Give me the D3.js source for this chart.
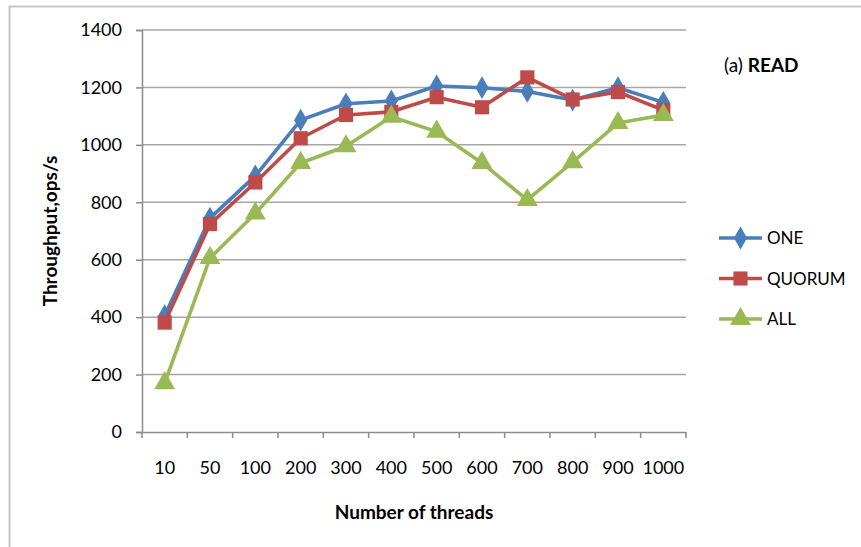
<!DOCTYPE html>
<html lang="en">
<head>
<meta charset="utf-8">
<title>READ throughput</title>
<script src="https://cdn.jsdelivr.net/npm/d3@7"></script>
<style>
  body { margin: 0; background: #fff; }
  text { font-family: Lato, "Open Sans", sans-serif; fill: #000; }
</style>
</head>
<body>
<script>
// chart data
var threads = ["10", "50", "100", "200", "300", "400", "500", "600", "700", "800", "900", "1000"];
var one    = [405, 745, 892, 1086, 1143, 1153, 1205, 1199, 1186, 1156, 1199, 1148];
var quorum = [381, 724, 869, 1023, 1104, 1115, 1166, 1131, 1235, 1158, 1184, 1121];
var all    = [170, 606, 761, 937, 995, 1098, 1046, 937, 808, 940, 1076, 1104];
var yTicks = [0, 200, 400, 600, 800, 1000, 1200, 1400];

var seriesNames = ["ONE", "QUORUM", "ALL"];
var seriesVals = [one, quorum, all];
var colors = ["#4a7ebb", "#be4b48", "#98b954"];
var shapes = [d3.symbolDiamond, d3.symbolSquare, d3.symbolTriangle];
var sizes = [150, 200, 190];

var width = 861, height = 547;
// plot area edges (note: "top" is reserved on window, so prefix them)
var pLeft = 142, pRight = 686, pTop = 30, pBottom = 432;

var svg = d3.select("body").append("svg")
  .attr("width", width)
  .attr("height", height);

// outer frame (only left and top visible in the crop)
svg.append("rect")
  .attr("x", 9.5).attr("y", 6.5)
  .attr("width", 900).attr("height", 600)
  .attr("fill", "none")
  .attr("stroke", "#c8c8c8")
  .attr("stroke-width", 2);

var x = d3.scaleBand().domain(threads).range([pLeft, pRight]);
var y = d3.scaleLinear().domain([0, 1400]).range([pBottom, pTop]);

// gridlines
svg.append("g")
  .selectAll("line")
  .data(yTicks.filter(function(d){ return d > 0; }))
  .enter().append("line")
  .attr("x1", pLeft).attr("x2", pRight)
  .attr("y1", function(d){ return y(d); })
  .attr("y2", function(d){ return y(d); })
  .attr("stroke", "#a6a6a6")
  .attr("stroke-width", 1.5);

// y axis
var yAxis = svg.append("g")
  .attr("transform", "translate(" + pLeft + ",0)")
  .call(d3.axisLeft(y).tickValues(yTicks).tickFormat(d3.format("d")).tickSize(6).tickPadding(14));
yAxis.selectAll("text").style("font-size", "18px");
yAxis.selectAll("line, path").attr("stroke", "#8c8c8c").attr("stroke-width", 1.5);

// x axis, ticks on the band edges
var xAxis = svg.append("g")
  .attr("transform", "translate(0," + pBottom + ")")
  .call(d3.axisBottom(x).tickSize(0).tickPadding(29));
xAxis.selectAll("text").style("font-size", "18px");
xAxis.select(".domain").attr("stroke", "#8c8c8c").attr("stroke-width", 1.5);
xAxis.selectAll(".edge")
  .data(threads.map(function(d){ return x(d); }).concat([pRight]))
  .enter().append("line")
  .attr("class", "edge")
  .attr("x1", function(d){ return d; }).attr("x2", function(d){ return d; })
  .attr("y1", 0).attr("y2", 6)
  .attr("stroke", "#8c8c8c").attr("stroke-width", 1.5);

// axis titles
svg.append("text")
  .attr("x", (pLeft + pRight) / 2).attr("y", 519)
  .attr("text-anchor", "middle")
  .style("font-size", "19px").style("font-weight", "bold")
  .text("Number of threads");

svg.append("text")
  .attr("transform", "translate(57,231) rotate(-90)")
  .attr("text-anchor", "middle")
  .style("font-size", "19px").style("font-weight", "bold")
  .text("Throughput,ops/s");

// series lines and markers
var line = d3.line()
  .x(function(d, i){ return x(threads[i]) + x.bandwidth() / 2; })
  .y(function(d){ return y(d); });

seriesVals.forEach(function(vals, k) {
  var g = svg.append("g");
  g.append("path")
    .attr("d", line(vals))
    .attr("fill", "none")
    .attr("stroke", colors[k])
    .attr("stroke-width", 3.6)
    .attr("stroke-linejoin", "round");
  g.selectAll("path.mark")
    .data(vals)
    .enter().append("path")
    .attr("class", "mark")
    .attr("transform", function(d, i){
      return "translate(" + (x(threads[i]) + x.bandwidth() / 2) + "," + y(d) + ")";
    })
    .attr("d", d3.symbol().type(shapes[k]).size(sizes[k]))
    .attr("fill", colors[k]);
});

// legend
var legend = svg.append("g");
seriesNames.forEach(function(name, k) {
  var ly = 238 + k * 40.5;
  legend.append("line")
    .attr("x1", 719).attr("x2", 762)
    .attr("y1", ly).attr("y2", ly)
    .attr("stroke", colors[k]).attr("stroke-width", 3.6);
  legend.append("path")
    .attr("transform", "translate(740.5," + ly + ")")
    .attr("d", d3.symbol().type(shapes[k]).size(sizes[k]))
    .attr("fill", colors[k]);
  legend.append("text")
    .attr("x", 767).attr("y", ly)
    .attr("dy", "0.36em")
    .style("font-size", "17px")
    .text(name);
});

// panel title
var title = svg.append("text")
  .attr("x", 724).attr("y", 72)
  .style("font-size", "19px");
title.append("tspan").text("(a) ");
title.append("tspan").style("font-weight", "bold").text("READ");
</script>
</body>
</html>
